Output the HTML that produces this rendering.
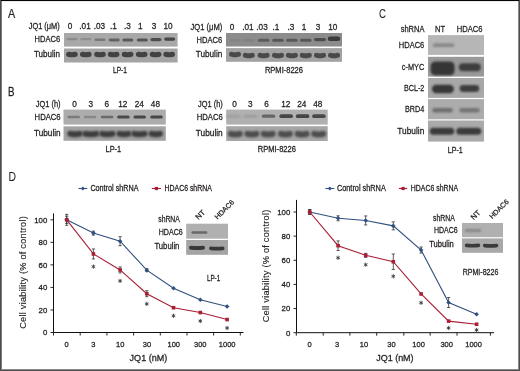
<!DOCTYPE html>
<html><head><meta charset="utf-8"><style>
html,body{margin:0;padding:0;background:#fff;}
svg{display:block;font-family:"Liberation Sans",sans-serif;will-change:transform;}
text{stroke:#231f20;stroke-width:0.26px;}
</style></head><body>
<svg width="520" height="371" viewBox="0 0 520 371">
<defs>
<filter id="b1" x="-50%" y="-100%" width="200%" height="300%"><feGaussianBlur stdDeviation="0.7"/></filter>
<filter id="b2" x="-50%" y="-100%" width="200%" height="300%"><feGaussianBlur stdDeviation="1.1"/></filter>
</defs>
<rect width="520" height="371" fill="#fff"/>
<text x="7.90" y="18.10" font-size="12.4" textLength="7.20" lengthAdjust="spacingAndGlyphs" fill="#231f20" style="stroke-width:0.2px">A</text>
<text x="8.10" y="96.00" font-size="12.6" textLength="6.50" lengthAdjust="spacingAndGlyphs" fill="#231f20" style="stroke-width:0.3px">B</text>
<text x="378.90" y="18.30" font-size="12.4" textLength="7.00" lengthAdjust="spacingAndGlyphs" fill="#231f20" style="stroke-width:0.05px">C</text>
<text x="8.60" y="180.90" font-size="12.4" textLength="7.50" lengthAdjust="spacingAndGlyphs" fill="#231f20" style="stroke-width:0.05px">D</text>
<text x="28.70" y="29.00" font-size="8.3" textLength="31.10" lengthAdjust="spacingAndGlyphs" fill="#231f20" >JQ1 (μM)</text>
<text x="70.00" y="29.00" font-size="8.2" text-anchor="middle" fill="#231f20">0</text>
<text x="85.00" y="29.00" font-size="8.2" text-anchor="middle" fill="#231f20">.01</text>
<text x="99.40" y="29.00" font-size="8.2" text-anchor="middle" fill="#231f20">.03</text>
<text x="113.30" y="29.00" font-size="8.2" text-anchor="middle" fill="#231f20">.1</text>
<text x="127.50" y="29.00" font-size="8.2" text-anchor="middle" fill="#231f20">.3</text>
<text x="140.20" y="29.00" font-size="8.2" text-anchor="middle" fill="#231f20">1</text>
<text x="154.00" y="29.00" font-size="8.2" text-anchor="middle" fill="#231f20">3</text>
<text x="168.00" y="29.00" font-size="8.2" text-anchor="middle" fill="#231f20">10</text>
<text x="34.60" y="42.30" font-size="8.3" textLength="25.50" lengthAdjust="spacingAndGlyphs" fill="#231f20" >HDAC6</text>
<text x="34.00" y="57.00" font-size="8.3" textLength="26.10" lengthAdjust="spacingAndGlyphs" fill="#231f20" >Tubulin</text>
<rect x="64" y="33" width="113.60" height="13.60" fill="#a8a8a8"/>
<rect x="64" y="48.5" width="113.60" height="14.00" fill="#a4a4a4"/>
<rect x="66.40" y="37.90" width="11.00" height="2.40" rx="1.20" fill="#8c8c8c" filter="url(#b1)"/>
<rect x="80.30" y="37.90" width="11.00" height="2.40" rx="1.20" fill="#8f8f8f" filter="url(#b1)"/>
<rect x="94.50" y="38.40" width="11.00" height="2.60" rx="1.30" fill="#787878" filter="url(#b1)"/>
<rect x="108.70" y="38.60" width="11.00" height="2.80" rx="1.40" fill="#646464" filter="url(#b1)"/>
<rect x="122.30" y="38.60" width="11.00" height="3.00" rx="1.50" fill="#5a5a5a" filter="url(#b1)"/>
<rect x="136.80" y="38.50" width="11.00" height="3.00" rx="1.50" fill="#555555" filter="url(#b1)"/>
<rect x="150.40" y="38.00" width="11.00" height="3.20" rx="1.60" fill="#4d4d4d" filter="url(#b1)"/>
<rect x="164.20" y="37.50" width="11.00" height="3.20" rx="1.60" fill="#464646" filter="url(#b1)"/>
<path d="M68.70 51.70Q71.90 52.60 75.10 51.70A2.60 2.60 0 0 1 75.10 56.90Q71.90 57.80 68.70 56.90A2.60 2.60 0 0 1 68.70 51.70Z" fill="#434343" filter="url(#b1)"/>
<path d="M82.60 51.70Q85.80 52.60 89.00 51.70A2.60 2.60 0 0 1 89.00 56.90Q85.80 57.80 82.60 56.90A2.60 2.60 0 0 1 82.60 51.70Z" fill="#434343" filter="url(#b1)"/>
<path d="M96.80 51.70Q100.00 52.60 103.20 51.70A2.60 2.60 0 0 1 103.20 56.90Q100.00 57.80 96.80 56.90A2.60 2.60 0 0 1 96.80 51.70Z" fill="#434343" filter="url(#b1)"/>
<path d="M110.40 51.70Q113.60 52.60 116.80 51.70A2.60 2.60 0 0 1 116.80 56.90Q113.60 57.80 110.40 56.90A2.60 2.60 0 0 1 110.40 51.70Z" fill="#434343" filter="url(#b1)"/>
<path d="M124.40 51.70Q127.60 52.60 130.80 51.70A2.60 2.60 0 0 1 130.80 56.90Q127.60 57.80 124.40 56.90A2.60 2.60 0 0 1 124.40 51.70Z" fill="#434343" filter="url(#b1)"/>
<path d="M138.50 51.70Q141.70 52.60 144.90 51.70A2.60 2.60 0 0 1 144.90 56.90Q141.70 57.80 138.50 56.90A2.60 2.60 0 0 1 138.50 51.70Z" fill="#434343" filter="url(#b1)"/>
<path d="M152.40 51.70Q155.60 52.60 158.80 51.70A2.60 2.60 0 0 1 158.80 56.90Q155.60 57.80 152.40 56.90A2.60 2.60 0 0 1 152.40 51.70Z" fill="#434343" filter="url(#b1)"/>
<path d="M166.00 51.70Q169.20 52.60 172.40 51.70A2.60 2.60 0 0 1 172.40 56.90Q169.20 57.80 166.00 56.90A2.60 2.60 0 0 1 166.00 51.70Z" fill="#434343" filter="url(#b1)"/>
<text x="113.00" y="72.50" font-size="8.3" textLength="14.00" lengthAdjust="spacingAndGlyphs" fill="#231f20" >LP-1</text>
<text x="190.50" y="29.50" font-size="8.3" textLength="31.80" lengthAdjust="spacingAndGlyphs" fill="#231f20" >JQ1 (μM)</text>
<text x="232.00" y="29.50" font-size="8.2" text-anchor="middle" fill="#231f20">0</text>
<text x="247.90" y="29.50" font-size="8.2" text-anchor="middle" fill="#231f20">.01</text>
<text x="262.00" y="29.50" font-size="8.2" text-anchor="middle" fill="#231f20">.03</text>
<text x="276.00" y="29.50" font-size="8.2" text-anchor="middle" fill="#231f20">.1</text>
<text x="291.00" y="29.50" font-size="8.2" text-anchor="middle" fill="#231f20">.3</text>
<text x="304.00" y="29.50" font-size="8.2" text-anchor="middle" fill="#231f20">1</text>
<text x="318.00" y="29.50" font-size="8.2" text-anchor="middle" fill="#231f20">3</text>
<text x="332.80" y="29.50" font-size="8.2" text-anchor="middle" fill="#231f20">10</text>
<text x="196.60" y="42.60" font-size="8.3" textLength="25.70" lengthAdjust="spacingAndGlyphs" fill="#231f20" >HDAC6</text>
<text x="195.70" y="57.20" font-size="8.3" textLength="26.60" lengthAdjust="spacingAndGlyphs" fill="#231f20" >Tubulin</text>
<rect x="226" y="33" width="116.00" height="13.50" fill="#8c8c8c"/>
<rect x="226" y="48.1" width="116.00" height="13.70" fill="#a2a2a2"/>
<rect x="229.25" y="39.00" width="11.50" height="2.60" rx="1.30" fill="#848484" filter="url(#b1)"/>
<rect x="243.05" y="39.00" width="11.50" height="2.60" rx="1.30" fill="#828282" filter="url(#b1)"/>
<rect x="257.85" y="38.80" width="11.50" height="3.00" rx="1.50" fill="#5c5c5c" filter="url(#b1)"/>
<rect x="272.25" y="38.80" width="11.50" height="3.00" rx="1.50" fill="#565656" filter="url(#b1)"/>
<rect x="286.15" y="38.80" width="11.50" height="3.00" rx="1.50" fill="#585858" filter="url(#b1)"/>
<rect x="300.05" y="38.80" width="11.50" height="3.00" rx="1.50" fill="#575757" filter="url(#b1)"/>
<rect x="314.00" y="37.90" width="12.00" height="3.40" rx="1.70" fill="#4e4e4e" filter="url(#b1)"/>
<rect x="327.75" y="36.40" width="12.50" height="4.60" rx="2.30" fill="#3a3a3a" filter="url(#b1)"/>
<path d="M231.50 51.70Q235.00 52.90 238.50 51.70A2.50 2.50 0 0 1 238.50 56.70Q235.00 57.90 231.50 56.70A2.50 2.50 0 0 1 231.50 51.70Z" fill="#4a4a4a" filter="url(#b1)"/>
<path d="M245.30 52.70Q248.80 53.90 252.30 52.70A2.50 2.50 0 0 1 252.30 57.70Q248.80 58.90 245.30 57.70A2.50 2.50 0 0 1 245.30 52.70Z" fill="#4a4a4a" filter="url(#b1)"/>
<path d="M260.10 52.70Q263.60 53.90 267.10 52.70A2.50 2.50 0 0 1 267.10 57.70Q263.60 58.90 260.10 57.70A2.50 2.50 0 0 1 260.10 52.70Z" fill="#4a4a4a" filter="url(#b1)"/>
<path d="M274.50 52.70Q278.00 53.90 281.50 52.70A2.50 2.50 0 0 1 281.50 57.70Q278.00 58.90 274.50 57.70A2.50 2.50 0 0 1 274.50 52.70Z" fill="#4a4a4a" filter="url(#b1)"/>
<path d="M288.40 52.70Q291.90 53.90 295.40 52.70A2.50 2.50 0 0 1 295.40 57.70Q291.90 58.90 288.40 57.70A2.50 2.50 0 0 1 288.40 52.70Z" fill="#4a4a4a" filter="url(#b1)"/>
<path d="M302.30 52.70Q305.80 53.90 309.30 52.70A2.50 2.50 0 0 1 309.30 57.70Q305.80 58.90 302.30 57.70A2.50 2.50 0 0 1 302.30 52.70Z" fill="#4a4a4a" filter="url(#b1)"/>
<path d="M316.50 52.70Q320.00 53.90 323.50 52.70A2.50 2.50 0 0 1 323.50 57.70Q320.00 58.90 316.50 57.70A2.50 2.50 0 0 1 316.50 52.70Z" fill="#4a4a4a" filter="url(#b1)"/>
<path d="M330.50 52.70Q334.00 53.90 337.50 52.70A2.50 2.50 0 0 1 337.50 57.70Q334.00 58.90 330.50 57.70A2.50 2.50 0 0 1 330.50 52.70Z" fill="#4a4a4a" filter="url(#b1)"/>
<text x="264.90" y="73.00" font-size="8.3" textLength="38.10" lengthAdjust="spacingAndGlyphs" fill="#231f20" >RPMI-8226</text>
<text x="35.80" y="106.80" font-size="8.3" textLength="24.80" lengthAdjust="spacingAndGlyphs" fill="#231f20" >JQ1 (h)</text>
<text x="74.50" y="106.60" font-size="8.2" text-anchor="middle" fill="#231f20">0</text>
<text x="90.70" y="106.60" font-size="8.2" text-anchor="middle" fill="#231f20">3</text>
<text x="106.90" y="106.60" font-size="8.2" text-anchor="middle" fill="#231f20">6</text>
<text x="122.80" y="106.60" font-size="8.2" text-anchor="middle" fill="#231f20">12</text>
<text x="139.20" y="106.60" font-size="8.2" text-anchor="middle" fill="#231f20">24</text>
<text x="155.40" y="106.60" font-size="8.2" text-anchor="middle" fill="#231f20">48</text>
<text x="34.60" y="119.90" font-size="8.3" textLength="26.00" lengthAdjust="spacingAndGlyphs" fill="#231f20" >HDAC6</text>
<text x="34.00" y="136.10" font-size="8.3" textLength="26.60" lengthAdjust="spacingAndGlyphs" fill="#231f20" >Tubulin</text>
<rect x="63.5" y="109.6" width="102.30" height="15.00" fill="#acacac"/>
<rect x="63.5" y="126.3" width="102.30" height="14.50" fill="#a3a3a3"/>
<rect x="67.45" y="115.80" width="12.50" height="2.40" rx="1.20" fill="#7a7a7a" filter="url(#b1)"/>
<rect x="83.85" y="115.80" width="12.50" height="2.40" rx="1.20" fill="#888888" filter="url(#b1)"/>
<rect x="100.85" y="115.80" width="12.50" height="2.40" rx="1.20" fill="#6a6a6a" filter="url(#b1)"/>
<rect x="117.15" y="115.50" width="12.50" height="3.00" rx="1.50" fill="#4a4a4a" filter="url(#b1)"/>
<rect x="133.45" y="115.50" width="12.50" height="3.00" rx="1.50" fill="#474747" filter="url(#b1)"/>
<rect x="150.25" y="115.50" width="12.50" height="3.00" rx="1.50" fill="#474747" filter="url(#b1)"/>
<path d="M70.30 130.70Q74.95 131.90 79.60 130.70A3.00 3.00 0 0 1 79.60 136.70Q74.95 137.90 70.30 136.70A3.00 3.00 0 0 1 70.30 130.70Z" fill="#3e3e3e" filter="url(#b2)"/>
<path d="M85.40 130.70Q90.80 131.90 96.20 130.70A3.00 3.00 0 0 1 96.20 136.70Q90.80 137.90 85.40 136.70A3.00 3.00 0 0 1 85.40 130.70Z" fill="#3e3e3e" filter="url(#b2)"/>
<path d="M102.20 130.70Q107.35 131.90 112.50 130.70A3.00 3.00 0 0 1 112.50 136.70Q107.35 137.90 102.20 136.70A3.00 3.00 0 0 1 102.20 130.70Z" fill="#3e3e3e" filter="url(#b2)"/>
<path d="M119.50 130.70Q123.90 131.90 128.30 130.70A3.00 3.00 0 0 1 128.30 136.70Q123.90 137.90 119.50 136.70A3.00 3.00 0 0 1 119.50 130.70Z" fill="#3e3e3e" filter="url(#b2)"/>
<path d="M134.30 130.70Q139.45 131.90 144.60 130.70A3.00 3.00 0 0 1 144.60 136.70Q139.45 137.90 134.30 136.70A3.00 3.00 0 0 1 134.30 130.70Z" fill="#3e3e3e" filter="url(#b2)"/>
<path d="M151.60 130.70Q155.75 131.90 159.90 130.70A3.00 3.00 0 0 1 159.90 136.70Q155.75 137.90 151.60 136.70A3.00 3.00 0 0 1 151.60 130.70Z" fill="#3e3e3e" filter="url(#b2)"/>
<text x="105.50" y="151.80" font-size="8.3" textLength="15.70" lengthAdjust="spacingAndGlyphs" fill="#231f20" >LP-1</text>
<text x="198.10" y="107.00" font-size="8.3" textLength="24.60" lengthAdjust="spacingAndGlyphs" fill="#231f20" >JQ1 (h)</text>
<text x="234.60" y="106.80" font-size="8.2" text-anchor="middle" fill="#231f20">0</text>
<text x="250.20" y="106.80" font-size="8.2" text-anchor="middle" fill="#231f20">3</text>
<text x="266.50" y="106.80" font-size="8.2" text-anchor="middle" fill="#231f20">6</text>
<text x="285.80" y="106.80" font-size="8.2" text-anchor="middle" fill="#231f20">12</text>
<text x="301.70" y="106.80" font-size="8.2" text-anchor="middle" fill="#231f20">24</text>
<text x="317.70" y="106.80" font-size="8.2" text-anchor="middle" fill="#231f20">48</text>
<text x="196.70" y="119.90" font-size="8.3" textLength="26.00" lengthAdjust="spacingAndGlyphs" fill="#231f20" >HDAC6</text>
<text x="195.80" y="136.10" font-size="8.3" textLength="26.90" lengthAdjust="spacingAndGlyphs" fill="#231f20" >Tubulin</text>
<rect x="226.2" y="109.6" width="101.50" height="15.00" fill="#b0b0b0"/>
<rect x="226.2" y="126.2" width="101.50" height="14.80" fill="#a6a6a6"/>
<rect x="226.45" y="114.90" width="13.50" height="2.60" rx="1.30" fill="#9c9c9c" filter="url(#b2)"/>
<rect x="243.75" y="114.90" width="13.50" height="2.60" rx="1.30" fill="#989898" filter="url(#b2)"/>
<rect x="261.75" y="114.60" width="13.50" height="3.20" rx="1.60" fill="#666666" filter="url(#b1)"/>
<rect x="279.45" y="114.30" width="13.50" height="3.80" rx="1.90" fill="#444444" filter="url(#b1)"/>
<rect x="295.85" y="114.30" width="13.50" height="3.80" rx="1.90" fill="#444444" filter="url(#b1)"/>
<rect x="312.15" y="114.30" width="13.50" height="3.80" rx="1.90" fill="#4a4a4a" filter="url(#b1)"/>
<path d="M230.90 130.70Q235.30 132.10 239.70 130.70A3.10 3.10 0 0 1 239.70 136.90Q235.30 138.30 230.90 136.90A3.10 3.10 0 0 1 230.90 130.70Z" fill="#4e4e4e" filter="url(#b2)"/>
<path d="M247.50 130.70Q251.90 132.10 256.30 130.70A3.10 3.10 0 0 1 256.30 136.90Q251.90 138.30 247.50 136.90A3.10 3.10 0 0 1 247.50 130.70Z" fill="#4e4e4e" filter="url(#b2)"/>
<path d="M263.80 130.70Q268.20 132.10 272.60 130.70A3.10 3.10 0 0 1 272.60 136.90Q268.20 138.30 263.80 136.90A3.10 3.10 0 0 1 263.80 130.70Z" fill="#4e4e4e" filter="url(#b2)"/>
<path d="M281.00 130.70Q285.40 132.10 289.80 130.70A3.10 3.10 0 0 1 289.80 136.90Q285.40 138.30 281.00 136.90A3.10 3.10 0 0 1 281.00 130.70Z" fill="#4e4e4e" filter="url(#b2)"/>
<path d="M297.80 130.70Q302.20 132.10 306.60 130.70A3.10 3.10 0 0 1 306.60 136.90Q302.20 138.30 297.80 136.90A3.10 3.10 0 0 1 297.80 130.70Z" fill="#4e4e4e" filter="url(#b2)"/>
<path d="M314.30 130.70Q318.70 132.10 323.10 130.70A3.10 3.10 0 0 1 323.10 136.90Q318.70 138.30 314.30 136.90A3.10 3.10 0 0 1 314.30 130.70Z" fill="#4e4e4e" filter="url(#b2)"/>
<text x="257.70" y="151.90" font-size="8.3" textLength="38.30" lengthAdjust="spacingAndGlyphs" fill="#231f20" >RPMI-8226</text>
<text x="400.70" y="32.00" font-size="8.8" textLength="23.70" lengthAdjust="spacingAndGlyphs" fill="#231f20" >shRNA</text>
<text x="435.00" y="32.00" font-size="8.8" textLength="10.00" lengthAdjust="spacingAndGlyphs" fill="#231f20" >NT</text>
<text x="456.80" y="32.00" font-size="8.8" textLength="25.80" lengthAdjust="spacingAndGlyphs" fill="#231f20" >HDAC6</text>
<rect x="428" y="35.1" width="56.00" height="19.80" fill="#b6b6b6"/>
<text x="398.80" y="48.10" font-size="8.8" textLength="25.50" lengthAdjust="spacingAndGlyphs" fill="#231f20" >HDAC6</text>
<rect x="428" y="56.8" width="56.00" height="19.80" fill="#999999"/>
<text x="401.80" y="69.90" font-size="8.8" textLength="22.50" lengthAdjust="spacingAndGlyphs" fill="#231f20" >c-MYC</text>
<rect x="428" y="78" width="56.00" height="19.90" fill="#a8a8a8"/>
<text x="404.00" y="91.40" font-size="8.8" textLength="20.30" lengthAdjust="spacingAndGlyphs" fill="#231f20" >BCL-2</text>
<rect x="428" y="99.1" width="56.00" height="20.20" fill="#acacac"/>
<text x="405.00" y="112.20" font-size="8.8" textLength="19.30" lengthAdjust="spacingAndGlyphs" fill="#231f20" >BRD4</text>
<rect x="428" y="120.5" width="56.00" height="21.10" fill="#aaaaaa"/>
<text x="397.30" y="133.80" font-size="8.8" textLength="27.00" lengthAdjust="spacingAndGlyphs" fill="#231f20" >Tubulin</text>
<rect x="432.85" y="43.30" width="21.50" height="3.80" rx="1.90" fill="#878787" filter="url(#b2)"/>
<rect x="430.60" y="61.60" width="24.00" height="13.60" rx="4.50" fill="#363636" filter="url(#b2)"/>
<rect x="458.80" y="63.20" width="22.00" height="8.00" rx="4.00" fill="#3e3e3e" filter="url(#b2)"/>
<rect x="431.90" y="84.85" width="22.00" height="8.50" rx="4.25" fill="#383838" filter="url(#b2)"/>
<rect x="459.65" y="85.10" width="19.50" height="6.80" rx="3.40" fill="#3c3c3c" filter="url(#b2)"/>
<rect x="432.25" y="107.90" width="20.50" height="4.60" rx="2.30" fill="#6e6e6e" filter="url(#b2)"/>
<rect x="459.25" y="107.90" width="20.50" height="4.60" rx="2.30" fill="#747474" filter="url(#b2)"/>
<rect x="429.75" y="127.70" width="24.50" height="7.00" rx="3.50" fill="#3a3a3a" filter="url(#b2)"/>
<rect x="456.30" y="127.70" width="25.00" height="7.00" rx="3.50" fill="#3a3a3a" filter="url(#b2)"/>
<text x="447.80" y="152.50" font-size="8.3" textLength="15.00" lengthAdjust="spacingAndGlyphs" fill="#231f20" >LP-1</text>
<path d="M53.50 213.40V332.50H243.50" stroke="#111" stroke-width="1" fill="none"/>
<path d="M50.50 332.50H53.5" stroke="#111" stroke-width="0.9"/>
<text x="47.30" y="335.30" font-size="7.8" text-anchor="end" fill="#231f20">0</text>
<path d="M50.50 309.96H53.5" stroke="#111" stroke-width="0.9"/>
<text x="47.30" y="312.76" font-size="7.8" text-anchor="end" fill="#231f20">20</text>
<path d="M50.50 287.42H53.5" stroke="#111" stroke-width="0.9"/>
<text x="47.30" y="290.22" font-size="7.8" text-anchor="end" fill="#231f20">40</text>
<path d="M50.50 264.88H53.5" stroke="#111" stroke-width="0.9"/>
<text x="47.30" y="267.68" font-size="7.8" text-anchor="end" fill="#231f20">60</text>
<path d="M50.50 242.34H53.5" stroke="#111" stroke-width="0.9"/>
<text x="47.30" y="245.14" font-size="7.8" text-anchor="end" fill="#231f20">80</text>
<path d="M50.50 219.80H53.5" stroke="#111" stroke-width="0.9"/>
<text x="47.30" y="222.60" font-size="7.8" text-anchor="end" fill="#231f20">100</text>
<path d="M53.50 332.50V335.50" stroke="#111" stroke-width="0.9"/>
<path d="M80.20 332.50V335.50" stroke="#111" stroke-width="0.9"/>
<path d="M106.90 332.50V335.50" stroke="#111" stroke-width="0.9"/>
<path d="M133.60 332.50V335.50" stroke="#111" stroke-width="0.9"/>
<path d="M160.30 332.50V335.50" stroke="#111" stroke-width="0.9"/>
<path d="M187.00 332.50V335.50" stroke="#111" stroke-width="0.9"/>
<path d="M213.60 332.50V335.50" stroke="#111" stroke-width="0.9"/>
<path d="M240.30 332.50V335.50" stroke="#111" stroke-width="0.9"/>
<text x="66.70" y="346.80" font-size="7.5" text-anchor="middle" fill="#231f20">0</text>
<text x="93.30" y="346.80" font-size="7.5" text-anchor="middle" fill="#231f20">3</text>
<text x="120.20" y="346.80" font-size="7.5" text-anchor="middle" fill="#231f20">10</text>
<text x="147.00" y="346.80" font-size="7.5" text-anchor="middle" fill="#231f20">30</text>
<text x="173.80" y="346.80" font-size="7.5" text-anchor="middle" fill="#231f20">100</text>
<text x="200.30" y="346.80" font-size="7.5" text-anchor="middle" fill="#231f20">300</text>
<text x="227.20" y="346.80" font-size="7.5" text-anchor="middle" fill="#231f20">1000</text>
<text x="129.60" y="361.10" font-size="8.6" textLength="37.70" lengthAdjust="spacingAndGlyphs" fill="#231f20" >JQ1 (nM)</text>
<text transform="translate(26.20,272.50) rotate(-90)" x="0" y="0" font-size="9.3" text-anchor="middle" fill="#231f20" style="stroke-width:0.12px" textLength="112.6" lengthAdjust="spacing">Cell viability (% of control)</text>
<path d="M66.70 214.30V225.30M65.10 214.30H68.30M65.10 225.30H68.30" stroke="#333" stroke-width="0.8" fill="none"/>
<path d="M93.40 231.10V235.10M91.80 231.10H95.00M91.80 235.10H95.00" stroke="#333" stroke-width="0.8" fill="none"/>
<path d="M120.10 236.71V245.71M118.50 236.71H121.70M118.50 245.71H121.70" stroke="#333" stroke-width="0.8" fill="none"/>
<path d="M146.80 268.68V271.68M145.20 268.68H148.40M145.20 271.68H148.40" stroke="#333" stroke-width="0.8" fill="none"/>
<path d="M66.70 216.20V223.40M65.10 216.20H68.30M65.10 223.40H68.30" stroke="#333" stroke-width="0.8" fill="none"/>
<path d="M93.40 248.95V258.95M91.80 248.95H95.00M91.80 258.95H95.00" stroke="#333" stroke-width="0.8" fill="none"/>
<path d="M120.10 266.95V272.95M118.50 266.95H121.70M118.50 272.95H121.70" stroke="#333" stroke-width="0.8" fill="none"/>
<path d="M146.80 290.73V296.73M145.20 290.73H148.40M145.20 296.73H148.40" stroke="#333" stroke-width="0.8" fill="none"/>
<polyline points="66.70,219.80 93.40,233.10 120.10,241.21 146.80,270.18 173.50,288.32 200.30,299.82 227.10,306.47" stroke="#30507f" stroke-width="1.1" fill="none"/>
<polyline points="66.70,219.80 93.40,253.95 120.10,269.95 146.80,293.73 173.50,307.71 200.30,312.55 227.10,319.54" stroke="#a81e34" stroke-width="1.1" fill="none"/>
<path d="M64.40 219.80L66.70 217.50L69.00 219.80L66.70 222.10Z" fill="#30507f"/>
<path d="M91.10 233.10L93.40 230.80L95.70 233.10L93.40 235.40Z" fill="#30507f"/>
<path d="M117.80 241.21L120.10 238.91L122.40 241.21L120.10 243.51Z" fill="#30507f"/>
<path d="M144.50 270.18L146.80 267.88L149.10 270.18L146.80 272.48Z" fill="#30507f"/>
<path d="M171.20 288.32L173.50 286.02L175.80 288.32L173.50 290.62Z" fill="#30507f"/>
<path d="M198.00 299.82L200.30 297.52L202.60 299.82L200.30 302.12Z" fill="#30507f"/>
<path d="M224.80 306.47L227.10 304.17L229.40 306.47L227.10 308.77Z" fill="#30507f"/>
<rect x="64.90" y="218.00" width="3.6" height="3.6" fill="#a81e34"/>
<rect x="91.60" y="252.15" width="3.6" height="3.6" fill="#a81e34"/>
<rect x="118.30" y="268.15" width="3.6" height="3.6" fill="#a81e34"/>
<rect x="145.00" y="291.93" width="3.6" height="3.6" fill="#a81e34"/>
<rect x="171.70" y="305.91" width="3.6" height="3.6" fill="#a81e34"/>
<rect x="198.50" y="310.75" width="3.6" height="3.6" fill="#a81e34"/>
<rect x="225.30" y="317.74" width="3.6" height="3.6" fill="#a81e34"/>
<path d="M93.40 264.50L93.40 268.70M91.58 265.55L95.22 267.65M95.22 265.55L91.58 267.65" stroke="#3a3a3a" stroke-width="0.9" fill="none"/>
<path d="M120.10 278.80L120.10 283.00M118.28 279.85L121.92 281.95M121.92 279.85L118.28 281.95" stroke="#3a3a3a" stroke-width="0.9" fill="none"/>
<path d="M146.80 301.80L146.80 306.00M144.98 302.85L148.62 304.95M148.62 302.85L144.98 304.95" stroke="#3a3a3a" stroke-width="0.9" fill="none"/>
<path d="M173.50 313.70L173.50 317.90M171.68 314.75L175.32 316.85M175.32 314.75L171.68 316.85" stroke="#3a3a3a" stroke-width="0.9" fill="none"/>
<path d="M200.30 318.90L200.30 323.10M198.48 319.95L202.12 322.05M202.12 319.95L198.48 322.05" stroke="#3a3a3a" stroke-width="0.9" fill="none"/>
<path d="M227.10 325.90L227.10 330.10M225.28 326.95L228.92 329.05M228.92 326.95L225.28 329.05" stroke="#3a3a3a" stroke-width="0.9" fill="none"/>
<path d="M78.4 188.5H87.3" stroke="#30507f" stroke-width="1.1"/>
<path d="M80.85 188.50L82.85 186.50L84.85 188.50L82.85 190.50Z" fill="#30507f"/>
<text x="90.40" y="191.00" font-size="8.2" textLength="48.10" lengthAdjust="spacingAndGlyphs" fill="#231f20" >Control shRNA</text>
<path d="M151.8 188.5H161" stroke="#a81e34" stroke-width="1.1"/>
<rect x="154.80" y="186.90" width="3.2" height="3.2" fill="#a81e34"/>
<text x="164.60" y="191.00" font-size="8.2" textLength="47.20" lengthAdjust="spacingAndGlyphs" fill="#231f20" >HDAC6 shRNA</text>
<text x="206.90" y="280.80" font-size="8.2" textLength="13.30" lengthAdjust="spacingAndGlyphs" fill="#231f20" >LP-1</text>
<text x="158.30" y="221.80" font-size="8.3" textLength="21.50" lengthAdjust="spacingAndGlyphs" fill="#231f20" >shRNA</text>
<text x="158.70" y="235.30" font-size="8.3" textLength="24.00" lengthAdjust="spacingAndGlyphs" fill="#231f20" >HDAC6</text>
<text x="154.40" y="249.20" font-size="8.3" textLength="25.00" lengthAdjust="spacingAndGlyphs" fill="#231f20" >Tubulin</text>
<rect x="186.2" y="223.7" width="41.80" height="15.00" fill="#b0b0b0"/>
<rect x="186.2" y="240" width="41.80" height="14.80" fill="#a4a4a4"/>
<rect x="191.40" y="231.20" width="16.00" height="2.60" rx="1.30" fill="#6a6a6a" filter="url(#b1)"/>
<path d="M191.00 245.70Q197.00 246.30 203.00 245.70A2.00 2.00 0 0 1 203.00 249.70Q197.00 250.30 191.00 249.70A2.00 2.00 0 0 1 191.00 245.70Z" fill="#383838" filter="url(#b1)"/>
<path d="M210.95 246.40Q216.80 247.00 222.65 246.40A1.90 1.90 0 0 1 222.65 250.20Q216.80 250.80 210.95 250.20A1.90 1.90 0 0 1 210.95 246.40Z" fill="#383838" filter="url(#b1)"/>
<text transform="translate(198.6,220) rotate(-45)" font-size="7.5" fill="#231f20">NT</text>
<text transform="translate(217.6,219.8) rotate(-45)" font-size="7.1" fill="#231f20">HDAC6</text>
<path d="M296.50 199.90V332.70H494.00" stroke="#111" stroke-width="1" fill="none"/>
<path d="M293.50 332.70H296.5" stroke="#111" stroke-width="0.9"/>
<text x="290.30" y="335.50" font-size="7.8" text-anchor="end" fill="#231f20">0</text>
<path d="M293.50 308.56H296.5" stroke="#111" stroke-width="0.9"/>
<text x="290.30" y="311.36" font-size="7.8" text-anchor="end" fill="#231f20">20</text>
<path d="M293.50 284.42H296.5" stroke="#111" stroke-width="0.9"/>
<text x="290.30" y="287.22" font-size="7.8" text-anchor="end" fill="#231f20">40</text>
<path d="M293.50 260.28H296.5" stroke="#111" stroke-width="0.9"/>
<text x="290.30" y="263.08" font-size="7.8" text-anchor="end" fill="#231f20">60</text>
<path d="M293.50 236.14H296.5" stroke="#111" stroke-width="0.9"/>
<text x="290.30" y="238.94" font-size="7.8" text-anchor="end" fill="#231f20">80</text>
<path d="M293.50 212.00H296.5" stroke="#111" stroke-width="0.9"/>
<text x="290.30" y="214.80" font-size="7.8" text-anchor="end" fill="#231f20">100</text>
<path d="M296.30 332.70V335.70" stroke="#111" stroke-width="0.9"/>
<path d="M323.20 332.70V335.70" stroke="#111" stroke-width="0.9"/>
<path d="M349.90 332.70V335.70" stroke="#111" stroke-width="0.9"/>
<path d="M376.70 332.70V335.70" stroke="#111" stroke-width="0.9"/>
<path d="M403.80 332.70V335.70" stroke="#111" stroke-width="0.9"/>
<path d="M430.20 332.70V335.70" stroke="#111" stroke-width="0.9"/>
<path d="M457.00 332.70V335.70" stroke="#111" stroke-width="0.9"/>
<path d="M490.40 332.70V335.70" stroke="#111" stroke-width="0.9"/>
<text x="309.50" y="347.00" font-size="7.5" text-anchor="middle" fill="#231f20">0</text>
<text x="337.00" y="347.00" font-size="7.5" text-anchor="middle" fill="#231f20">3</text>
<text x="364.00" y="347.00" font-size="7.5" text-anchor="middle" fill="#231f20">10</text>
<text x="391.50" y="347.00" font-size="7.5" text-anchor="middle" fill="#231f20">30</text>
<text x="418.60" y="347.00" font-size="7.5" text-anchor="middle" fill="#231f20">100</text>
<text x="446.70" y="347.00" font-size="7.5" text-anchor="middle" fill="#231f20">300</text>
<text x="473.60" y="347.00" font-size="7.5" text-anchor="middle" fill="#231f20">1000</text>
<text x="376.20" y="361.30" font-size="8.6" textLength="37.40" lengthAdjust="spacingAndGlyphs" fill="#231f20" >JQ1 (nM)</text>
<text transform="translate(269.20,266.00) rotate(-90)" x="0" y="0" font-size="9.3" text-anchor="middle" fill="#231f20" style="stroke-width:0.12px" textLength="112.6" lengthAdjust="spacing">Cell viability (% of control)</text>
<path d="M309.70 209.60V214.40M308.10 209.60H311.30M308.10 214.40H311.30" stroke="#333" stroke-width="0.8" fill="none"/>
<path d="M338.10 215.78V220.78M336.50 215.78H339.70M336.50 220.78H339.70" stroke="#333" stroke-width="0.8" fill="none"/>
<path d="M365.70 215.95V224.95M364.10 215.95H367.30M364.10 224.95H367.30" stroke="#333" stroke-width="0.8" fill="none"/>
<path d="M393.30 221.88V229.88M391.70 221.88H394.90M391.70 229.88H394.90" stroke="#333" stroke-width="0.8" fill="none"/>
<path d="M421.10 247.02V253.02M419.50 247.02H422.70M419.50 253.02H422.70" stroke="#333" stroke-width="0.8" fill="none"/>
<path d="M448.60 297.52V307.52M447.00 297.52H450.20M447.00 307.52H450.20" stroke="#333" stroke-width="0.8" fill="none"/>
<path d="M309.70 209.60V214.40M308.10 209.60H311.30M308.10 214.40H311.30" stroke="#333" stroke-width="0.8" fill="none"/>
<path d="M338.10 240.88V250.48M336.50 240.88H339.70M336.50 250.48H339.70" stroke="#333" stroke-width="0.8" fill="none"/>
<path d="M365.70 253.33V257.33M364.10 253.33H367.30M364.10 257.33H367.30" stroke="#333" stroke-width="0.8" fill="none"/>
<path d="M393.30 254.03V269.43M391.70 254.03H394.90M391.70 269.43H394.90" stroke="#333" stroke-width="0.8" fill="none"/>
<polyline points="309.70,212.00 338.10,218.28 365.70,220.45 393.30,225.88 421.10,250.02 448.60,302.52 476.60,314.23" stroke="#30507f" stroke-width="1.1" fill="none"/>
<polyline points="309.70,212.00 338.10,245.68 365.70,255.33 393.30,261.73 421.10,293.96 448.60,321.11 476.60,324.25" stroke="#a81e34" stroke-width="1.1" fill="none"/>
<path d="M307.40 212.00L309.70 209.70L312.00 212.00L309.70 214.30Z" fill="#30507f"/>
<path d="M335.80 218.28L338.10 215.98L340.40 218.28L338.10 220.58Z" fill="#30507f"/>
<path d="M363.40 220.45L365.70 218.15L368.00 220.45L365.70 222.75Z" fill="#30507f"/>
<path d="M391.00 225.88L393.30 223.58L395.60 225.88L393.30 228.18Z" fill="#30507f"/>
<path d="M418.80 250.02L421.10 247.72L423.40 250.02L421.10 252.32Z" fill="#30507f"/>
<path d="M446.30 302.52L448.60 300.22L450.90 302.52L448.60 304.82Z" fill="#30507f"/>
<path d="M474.30 314.23L476.60 311.93L478.90 314.23L476.60 316.53Z" fill="#30507f"/>
<rect x="307.90" y="210.20" width="3.6" height="3.6" fill="#a81e34"/>
<rect x="336.30" y="243.88" width="3.6" height="3.6" fill="#a81e34"/>
<rect x="363.90" y="253.53" width="3.6" height="3.6" fill="#a81e34"/>
<rect x="391.50" y="259.93" width="3.6" height="3.6" fill="#a81e34"/>
<rect x="419.30" y="292.16" width="3.6" height="3.6" fill="#a81e34"/>
<rect x="446.80" y="319.31" width="3.6" height="3.6" fill="#a81e34"/>
<rect x="474.80" y="322.45" width="3.6" height="3.6" fill="#a81e34"/>
<path d="M338.10 255.70L338.10 259.90M336.28 256.75L339.92 258.85M339.92 256.75L336.28 258.85" stroke="#3a3a3a" stroke-width="0.9" fill="none"/>
<path d="M365.70 262.60L365.70 266.80M363.88 263.65L367.52 265.75M367.52 263.65L363.88 265.75" stroke="#3a3a3a" stroke-width="0.9" fill="none"/>
<path d="M393.30 274.20L393.30 278.40M391.48 275.25L395.12 277.35M395.12 275.25L391.48 277.35" stroke="#3a3a3a" stroke-width="0.9" fill="none"/>
<path d="M421.10 300.70L421.10 304.90M419.28 301.75L422.92 303.85M422.92 301.75L419.28 303.85" stroke="#3a3a3a" stroke-width="0.9" fill="none"/>
<path d="M448.60 325.90L448.60 330.10M446.78 326.95L450.42 329.05M450.42 326.95L446.78 329.05" stroke="#3a3a3a" stroke-width="0.9" fill="none"/>
<path d="M476.60 327.90L476.60 332.10M474.78 328.95L478.42 331.05M478.42 328.95L474.78 331.05" stroke="#3a3a3a" stroke-width="0.9" fill="none"/>
<path d="M325.4 188.5H334.2" stroke="#30507f" stroke-width="1.1"/>
<path d="M327.80 188.50L329.80 186.50L331.80 188.50L329.80 190.50Z" fill="#30507f"/>
<text x="336.90" y="191.00" font-size="8.2" textLength="48.90" lengthAdjust="spacingAndGlyphs" fill="#231f20" >Control shRNA</text>
<path d="M398.9 188.5H407.2" stroke="#a81e34" stroke-width="1.1"/>
<rect x="401.45" y="186.90" width="3.2" height="3.2" fill="#a81e34"/>
<text x="410.80" y="191.00" font-size="8.2" textLength="47.40" lengthAdjust="spacingAndGlyphs" fill="#231f20" >HDAC6 shRNA</text>
<text x="462.70" y="274.60" font-size="8.2" textLength="35.70" lengthAdjust="spacingAndGlyphs" fill="#231f20" >RPMI-8226</text>
<text x="433.00" y="221.00" font-size="8.3" textLength="21.80" lengthAdjust="spacingAndGlyphs" fill="#231f20" >shRNA</text>
<text x="434.00" y="233.00" font-size="8.3" textLength="23.70" lengthAdjust="spacingAndGlyphs" fill="#231f20" >HDAC6</text>
<text x="429.20" y="247.30" font-size="8.3" textLength="24.60" lengthAdjust="spacingAndGlyphs" fill="#231f20" >Tubulin</text>
<rect x="462" y="223" width="41.00" height="14.20" fill="#b0b0b0"/>
<rect x="462" y="238.4" width="41.00" height="14.40" fill="#a8a8a8"/>
<rect x="464.75" y="229.10" width="16.50" height="3.00" rx="1.50" fill="#868686" filter="url(#b2)"/>
<path d="M466.55 243.60Q472.50 244.20 478.45 243.60A1.80 1.80 0 0 1 478.45 247.20Q472.50 247.80 466.55 247.20A1.80 1.80 0 0 1 466.55 243.60Z" fill="#3a3a3a" filter="url(#b1)"/>
<path d="M484.65 243.80Q490.60 244.40 496.55 243.80A1.80 1.80 0 0 1 496.55 247.40Q490.60 248.00 484.65 247.40A1.80 1.80 0 0 1 484.65 243.80Z" fill="#3a3a3a" filter="url(#b1)"/>
<text transform="translate(473.8,220.3) rotate(-45)" font-size="7.5" fill="#231f20">NT</text>
<text transform="translate(492.2,219.3) rotate(-45)" font-size="7.1" fill="#231f20">HDAC6</text>
<rect x="0" y="0" width="1" height="371" fill="#4b4b4b"/>
<rect x="1" y="1" width="1" height="368" fill="#808080"/>
<rect x="519" y="0" width="1" height="371" fill="#4e4e4e"/>
<rect x="518" y="1" width="1" height="368" fill="#8a8a8a"/>
<rect x="1" y="0" width="518" height="1" fill="#050505"/>
<rect x="2" y="1" width="516" height="1" fill="#ececec"/>
<rect x="1" y="369" width="518" height="1" fill="#8a8a8a"/>
<rect x="1" y="370" width="518" height="1" fill="#4e4e4e"/>
</svg>
</body></html>
